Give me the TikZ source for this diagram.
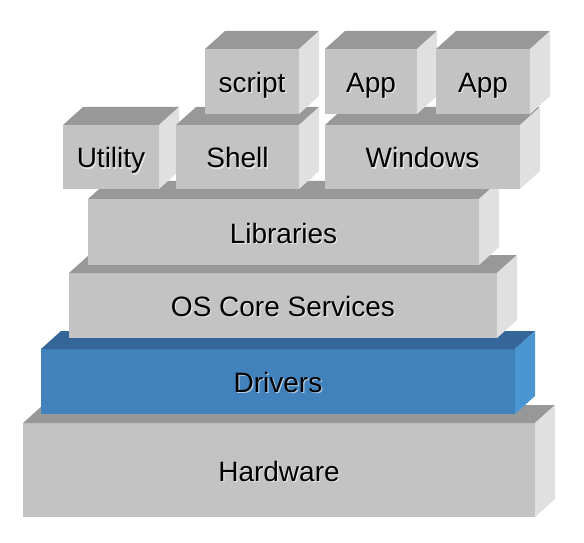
\documentclass[tikz,border=0pt]{standalone}
\usepackage{fontspec}
\setmainfont{Liberation Sans}
\definecolor{gfront}{HTML}{C3C3C3}
\definecolor{gtop}{HTML}{989898}
\definecolor{gside}{HTML}{E0E0E0}
\definecolor{bfront}{HTML}{4181BC}
\definecolor{btop}{HTML}{35669A}
\definecolor{bside}{HTML}{4A96D3}
\tikzset{
  face/.style={inner sep=0pt, outer sep=0pt, anchor=north west},
  lbl/.style={inner sep=0pt, anchor=base, font=\fontsize{28}{33}\selectfont, text=black},
  lblshadow/.style={inner sep=0pt, anchor=base, font=\fontsize{28}{33}\selectfont, text=white, opacity=0.6},
}
% name, x1, y1, x2, y2 (image coords, px), text, colour prefix
\newcommand\blk[7]{%
  \node[face, fill=#7front, minimum width={#4pt-#2pt}, minimum height={#5pt-#3pt}] (#1) at (#2pt,{542pt-#3pt}) {};
  \fill[#7top] (#1.north west) -- ++(20pt,18pt) -- ([shift={(20pt,18pt)}]#1.north east) -- (#1.north east) -- cycle;
  \fill[#7side] (#1.north east) -- ++(20pt,18pt) -- ([shift={(20pt,18pt)}]#1.south east) -- (#1.south east) -- cycle;
  \node[lblshadow] (#1-s) at ([shift={(1.2pt,-12.2pt)}]#1.center) {#6};
  \node[lbl] (#1-t) at ([shift={(0pt,-11pt)}]#1.center) {#6};
}
\begin{document}
\begin{tikzpicture}[x=1pt,y=1pt]
\useasboundingbox (0,0) rectangle (584,542);
\fill[white] (0,0) rectangle (584,542);
\blk{hw}{23}{423}{535}{517}{Hardware}{g}
\blk{drv}{41}{349}{515}{414}{Drivers}{b}
\blk{os}{69}{273}{497}{338}{OS Core Services}{g}
\blk{lib}{88}{199}{479}{265}{Libraries}{g}
\blk{util}{63}{125}{159}{189}{Utility}{g}
\blk{shell}{176}{125}{299}{189}{Shell}{g}
\blk{win}{325}{125}{520}{189}{Windows}{g}
\blk{scr}{205}{49}{299}{114}{script}{g}
\blk{appa}{325}{49}{417}{114}{App}{g}
\blk{appb}{436}{49}{530}{114}{App}{g}
\end{tikzpicture}
\end{document}
